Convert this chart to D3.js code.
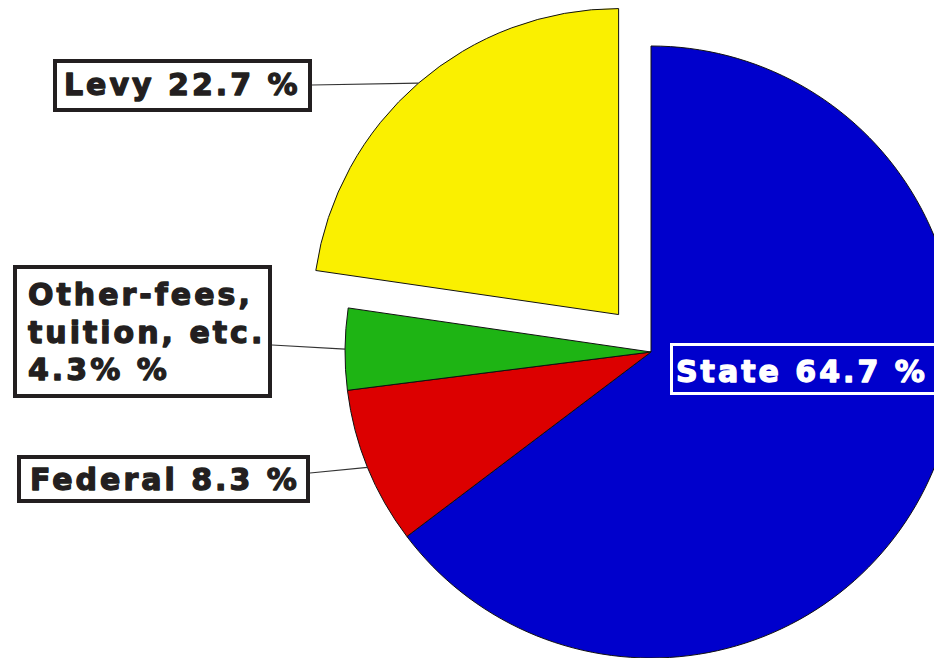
<!DOCTYPE html>
<html>
<head>
<meta charset="utf-8">
<script src="https://cdn.jsdelivr.net/npm/d3@7"></script>
<style>
    body { margin: 0; background: #fff; }
    .lbl { font-family: "DejaVu Sans", sans-serif; font-weight: bold; font-size: 30px; letter-spacing: 3px; stroke-width: 1.3px; stroke-linejoin: round; }
</style>
</head>
<body>
<div id="chart"></div>
<script>
// data
const categories = ["State", "Federal", "Other-fees, tuition, etc.", "Levy"];
const shares = [64.7, 8.3, 4.3, 22.7];
const labelLines = [
    ["State 64.7 %"],
    ["Federal 8.3 %"],
    ["Other-fees,", "tuition, etc.", "4.3% %"],
    ["Levy 22.7 %"]
];
const colors = ["#0000CC", "#DC0000", "#1EB414", "#FAF000"];

// layout for the label boxes (box outer edges + text anchor)
const boxes = [
    {x: 671.5, y: 344.5, w: 270, h: 49, tx: 676, ty: 382, lead: null, stroke: "#fff", fill: "none", text: "#fff", sw: 3},
    {x: 19, y: 457, w: 289, h: 44, tx: 30, ty: 490, lead: [310, 473], stroke: "#231F20", fill: "#fff", text: "#231F20", sw: 4},
    {x: 15, y: 267, w: 255, h: 129, tx: 28, ty: 305, lead: [272, 345], stroke: "#231F20", fill: "#fff", text: "#231F20", sw: 4},
    {x: 55, y: 61, w: 255, h: 49, tx: 64, ty: 95, lead: [312, 85], stroke: "#231F20", fill: "#fff", text: "#231F20", sw: 4}
];

const width = 934, height = 658;
const cx = 651, cy = 352, radius = 306;
const explode = 49.5; // levy is pulled out

const svg = d3.select("#chart").append("svg")
    .attr("width", width)
    .attr("height", height);

const pie = d3.pie().sort(null).value(d => d);
const arcs = pie(shares);
const arc = d3.arc().innerRadius(0).outerRadius(radius);

function offset(d, i) {
    if (i !== 3) return [0, 0];
    const a = (d.startAngle + d.endAngle) / 2;
    return [Math.sin(a) * explode, -Math.cos(a) * explode];
}

const g = svg.append("g").attr("transform", `translate(${cx},${cy})`);

g.selectAll("path.slice")
    .data(arcs)
    .enter().append("path")
    .attr("class", "slice")
    .attr("d", arc)
    .attr("transform", (d, i) => `translate(${offset(d, i)})`)
    .attr("fill", (d, i) => colors[i])
    .attr("stroke", "#111")
    .attr("stroke-width", 1)
    .attr("stroke-linejoin", "round");

// leader lines to the middle of each slice's rim
arcs.forEach((d, i) => {
    const b = boxes[i];
    if (!b.lead) return;
    const a = (d.startAngle + d.endAngle) / 2;
    const o = offset(d, i);
    const ex = cx + o[0] + Math.sin(a) * radius;
    const ey = cy + o[1] - Math.cos(a) * radius;
    svg.append("line")
        .attr("x1", b.lead[0]).attr("y1", b.lead[1])
        .attr("x2", ex).attr("y2", ey)
        .attr("stroke", "#333")
        .attr("stroke-width", 1.2);
});

// label boxes
const lg = svg.selectAll("g.label")
    .data(boxes)
    .enter().append("g")
    .attr("class", "label");

lg.append("rect")
    .attr("x", d => d.x).attr("y", d => d.y)
    .attr("width", d => d.w).attr("height", d => d.h)
    .attr("fill", d => d.fill)
    .attr("stroke", d => d.stroke)
    .attr("stroke-width", d => d.sw);

lg.each(function (b, i) {
    const t = d3.select(this).append("text")
        .attr("class", "lbl")
        .attr("fill", b.text)
        .attr("stroke", b.text)
        .attr("x", b.tx).attr("y", b.ty);
    labelLines[i].forEach((line, k) => {
        t.append("tspan")
            .attr("x", b.tx)
            .attr("dy", k === 0 ? 0 : 37.5)
            .text(line);
    });
});
</script>
</body>
</html>
